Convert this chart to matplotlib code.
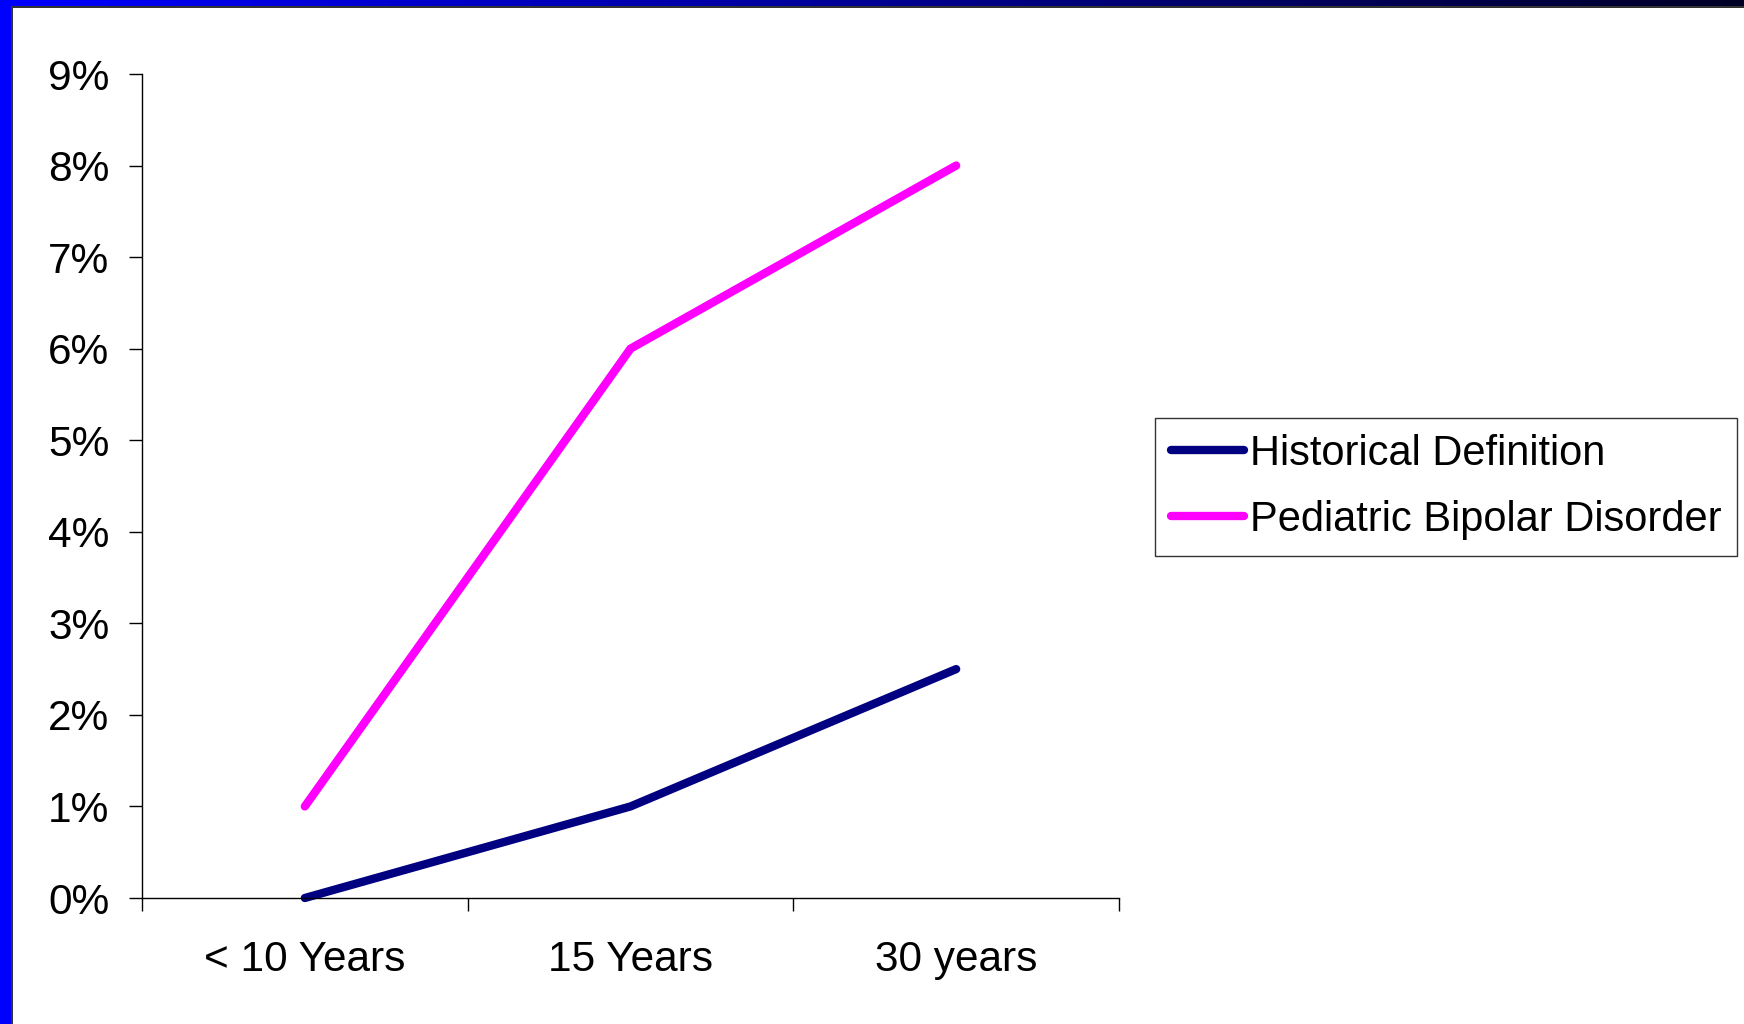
import numpy as np
import matplotlib
matplotlib.use("Agg")
import matplotlib.pyplot as plt
from matplotlib.patches import Rectangle

plt.rcParams['font.family'] = ['Liberation Sans', 'DejaVu Sans']

categories = ['< 10 Years', '15 Years', '30 years']
historical = [0.0, 1.0, 2.5]
pediatric = [1.0, 6.0, 8.0]
yticks = [0, 1, 2, 3, 4, 5, 6, 7, 8, 9]

fig = plt.figure(figsize=(17.44, 10.24), dpi=100)
fig.patch.set_facecolor('white')

# slide frame: blue bar on the left, gradient bar on top
bg = fig.add_axes([0, 0, 1, 1], zorder=-1)
bg.axis('off')
grad = np.linspace(0, 1, 256)
top_colors = np.zeros((1, 256, 3))
top_colors[0, :, 2] = np.clip(1.0 - 0.85 * grad, 0.1, 1)
bg.imshow(top_colors, extent=[0, 1744, 6, 0], aspect='auto')
bg.add_patch(Rectangle((0, 0), 11, 1024, color='#0000ff', lw=0))
bg.add_patch(Rectangle((11, 6), 1744, 1.5, color='#333333', lw=0))
bg.add_patch(Rectangle((11, 6), 1.5, 1024, color='#333333', lw=0))
bg.set_xlim(0, 1744)
bg.set_ylim(1024, 0)

ax = fig.add_axes([142 / 1744, 1 - 898 / 1024, (1119 - 142) / 1744, (898 - 74) / 1024])
x = np.arange(len(categories))
ax.plot(x, historical, color='#000080', lw=6, solid_capstyle='round',
        solid_joinstyle='miter', label='Historical Definition', clip_on=False)
ax.plot(x, pediatric, color='#ff00ff', lw=6, solid_capstyle='round',
        solid_joinstyle='miter', label='Pediatric Bipolar Disorder', clip_on=False)

ax.set_xlim(-0.5, 2.5)
ax.set_ylim(0, 9)
ax.set_yticks(yticks)
ax.set_yticklabels([f'{v}%' for v in yticks])
ax.set_xticks([-0.5, 0.5, 1.5, 2.5])
ax.set_xticklabels([])
ax.set_xticks(x, minor=True)
ax.set_xticklabels(categories, minor=True)
ax.tick_params(axis='x', which='minor', length=0, pad=30, labelsize=30.5)
ax.tick_params(axis='x', which='major', direction='out', length=9.5, width=1)
ax.tick_params(axis='y', direction='out', length=9.5, width=1, pad=14, labelsize=30.5)
for s in ['top', 'right']:
    ax.spines[s].set_visible(False)
for s in ['left', 'bottom']:
    ax.spines[s].set_linewidth(1)

leg = fig.legend(loc='upper left', bbox_to_anchor=(1155 / 1744, 1 - 418 / 1024),
                 fontsize=30, frameon=True, fancybox=False, edgecolor='black',
                 handlelength=1.75, handletextpad=0.15, borderpad=0.38,
                 labelspacing=0.62, borderaxespad=0)
leg.get_frame().set_linewidth(1)
for h in leg.get_lines():
    h.set_linewidth(6)
    h.set_solid_capstyle('round')

fig.savefig('out.png', dpi=100)
